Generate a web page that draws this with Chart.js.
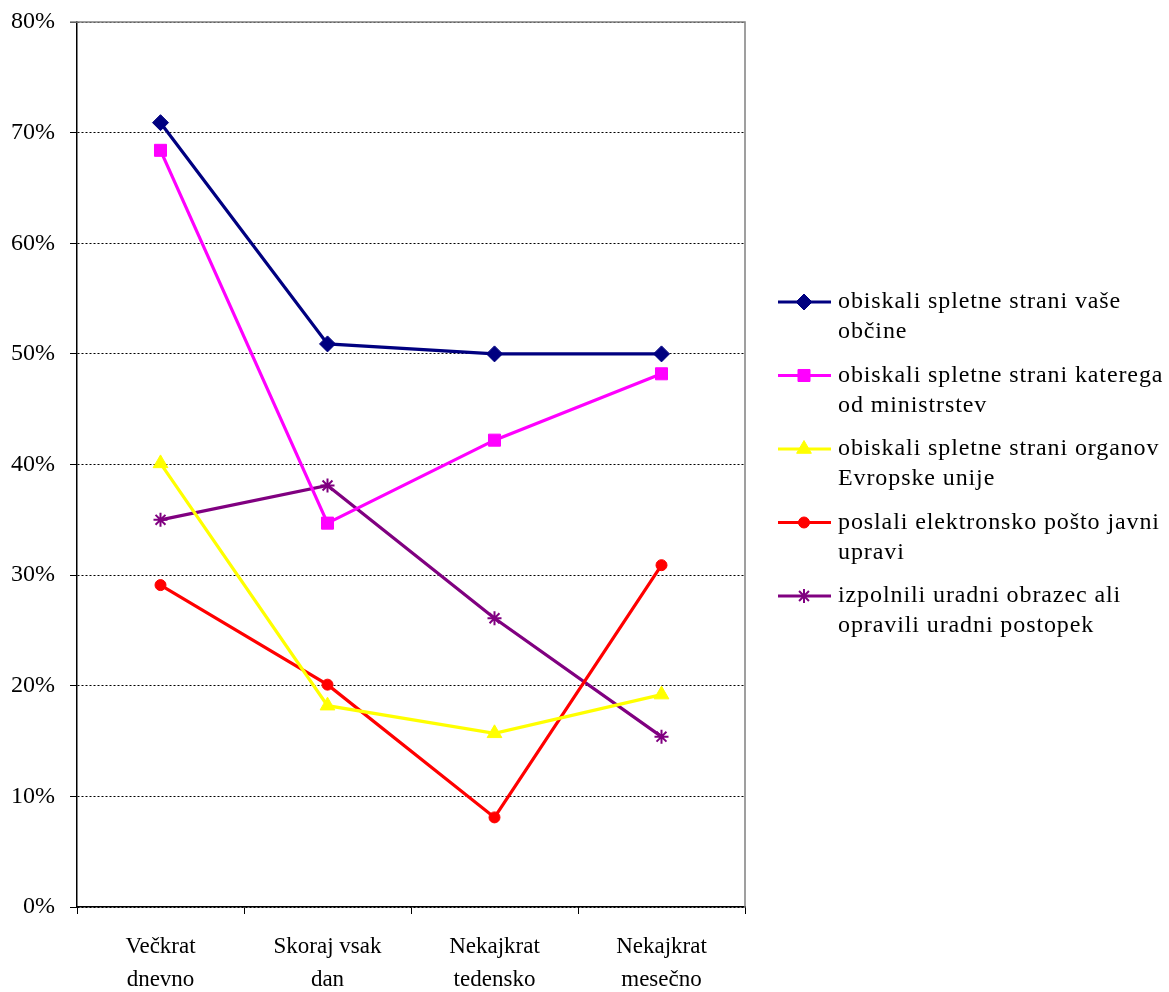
<!DOCTYPE html>
<html>
<head>
<meta charset="utf-8">
<script src="https://cdn.jsdelivr.net/npm/chart.js@4.4.0/dist/chart.umd.min.js"></script>
<style>
body { margin: 0; background: #fff; }
#okvir { width: 1169px; height: 992px; position: relative; }
</style>
</head>
<body>
<div id="okvir"><canvas id="graficaObisk"></canvas></div>
<script>
// Podatki (v %)
const kategorije = [['Večkrat', 'dnevno'], ['Skoraj vsak', 'dan'], ['Nekajkrat', 'tedensko'], ['Nekajkrat', 'mesečno']];
const obcine = [70.9, 50.9, 50.0, 50.0];
const ministrstva = [68.4, 34.7, 42.2, 48.2];
const organiEU = [40.1, 18.2, 15.7, 19.2];
const elPosta = [29.1, 20.1, 8.1, 30.9];
const obrazec = [35.0, 38.1, 26.1, 15.4];
const oznake = [
    ['obiskali spletne strani vaše', 'občine'],
    ['obiskali spletne strani katerega', 'od ministrstev'],
    ['obiskali spletne strani organov', 'Evropske unije'],
    ['poslali elektronsko pošto javni', 'upravi'],
    ['izpolnili uradni obrazec ali', 'opravili uradni postopek']
];

const pisava = '"Liberation Serif", "Times New Roman", serif';

function serija(i, data, barva, oblika, polmer, debelina) {
    return {
        label: oznake[i].join(' '),
        data: data,
        borderColor: barva,
        backgroundColor: barva,
        borderWidth: 3.2,
        pointStyle: oblika,
        pointRadius: polmer,
        pointHoverRadius: polmer,
        pointBorderColor: barva,
        pointBackgroundColor: barva,
        pointBorderWidth: debelina,
        tension: 0
    };
}

// Legenda na desni + siv okvir risalne ploskve
const legendaDesno = {
    id: 'legendaDesno',
    afterDraw(chart) {
        const ctx = chart.ctx;
        const a = chart.chartArea;
        ctx.save();
        ctx.strokeStyle = '#808080';
        ctx.lineWidth = 1.5;
        ctx.beginPath();
        ctx.moveTo(70, a.top);
        ctx.lineTo(a.right, a.top);
        ctx.lineTo(a.right, a.bottom);
        ctx.stroke();

        chart.data.datasets.forEach((ds, i) => {
            const y = 302 + i * 73.5;
            ctx.strokeStyle = ds.borderColor;
            ctx.lineWidth = 3.2;
            ctx.beginPath();
            ctx.moveTo(778, y);
            ctx.lineTo(831, y);
            ctx.stroke();
            ctx.fillStyle = ds.pointBackgroundColor;
            ctx.strokeStyle = ds.pointBorderColor;
            ctx.lineWidth = ds.pointBorderWidth;
            Chart.helpers.drawPoint(ctx, {
                pointStyle: ds.pointStyle,
                radius: ds.pointRadius,
                borderWidth: ds.pointBorderWidth,
                rotation: 0
            }, 804, y);

            ctx.fillStyle = '#000';
            ctx.font = '24px ' + pisava;
            ctx.letterSpacing = '0.9px';
            ctx.textBaseline = 'middle';
            ctx.textAlign = 'left';
            oznake[i].forEach((vrstica, j) => ctx.fillText(vrstica, 838, y + j * 30));
        });
        ctx.restore();
    }
};

const ctxObisk = document.getElementById('graficaObisk').getContext('2d');
const graficaObisk = new Chart(ctxObisk, {
    type: 'line',
    data: {
        labels: kategorije,
        datasets: [
            serija(0, obcine, '#000080', 'rectRot', 8, 1),
            serija(1, ministrstva, '#FF00FF', 'rect', 8.5, 1),
            serija(2, organiEU, '#FFFF00', 'triangle', 8.5, 1),
            serija(3, elPosta, '#FF0000', 'circle', 5.5, 1),
            serija(4, obrazec, '#800080', 'star', 7, 2)
        ]
    },
    options: {
        responsive: true,
        maintainAspectRatio: false,
        animation: false,
        layout: { padding: { top: 22, right: 424, left: 0, bottom: 0 } },
        plugins: {
            legend: { display: false },
            tooltip: { enabled: false }
        },
        scales: {
            x: {
                offset: true,
                afterFit(scale) {
                    scale.height = 85;
                    scale.paddingLeft = 0;
                    scale.paddingRight = 0;
                },
                grid: {
                    offset: true,
                    drawOnChartArea: false,
                    tickLength: 7,
                    tickColor: '#000',
                    tickWidth: 1
                },
                border: { color: '#000', width: 1.5 },
                ticks: {
                    color: '#000',
                    padding: 16,
                    maxRotation: 0,
                    autoSkip: false,
                    font: { family: pisava, size: 23, lineHeight: '33px' }
                }
            },
            y: {
                min: 0,
                max: 80,
                afterFit(scale) {
                    scale.width = 77;
                    scale.paddingTop = 0;
                    scale.paddingBottom = 0;
                },
                grid: {
                    color: '#000',
                    lineWidth: 1,
                    tickLength: 7,
                    tickColor: '#000'
                },
                border: { color: '#000', width: 1.5, dash: [2, 2] },
                ticks: {
                    stepSize: 10,
                    color: '#000',
                    padding: 15,
                    font: { family: pisava, size: 24 },
                    callback: v => v + '%'
                }
            }
        }
    },
    plugins: [legendaDesno]
});
</script>
</body>
</html>
